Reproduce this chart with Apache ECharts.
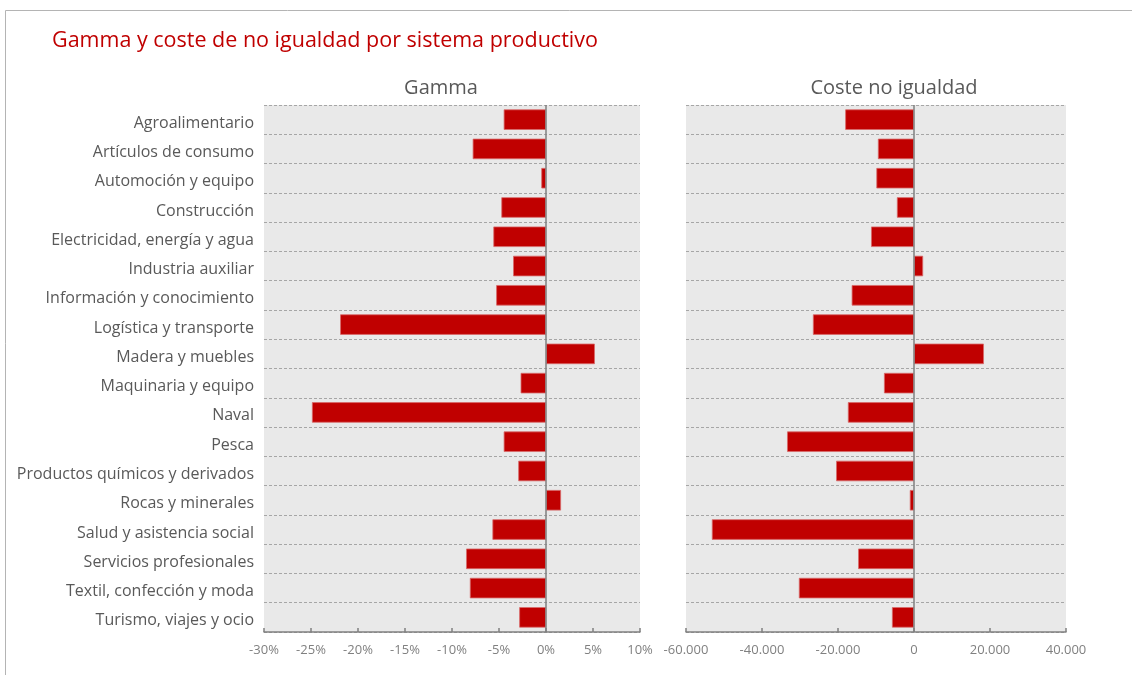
<!DOCTYPE html>
<html><head><meta charset="utf-8">
<script src="https://cdn.jsdelivr.net/npm/echarts@6/dist/echarts.min.js"></script>
<style>html,body{margin:0;padding:0;background:#fff}#c{width:1132px;height:675px}</style>
</head><body><div id="c"></div>
<script>
const categories = ["Agroalimentario","Artículos de consumo","Automoción y equipo","Construcción","Electricidad, energía y agua","Industria auxiliar","Información y conocimiento","Logística y transporte","Madera y muebles","Maquinaria y equipo","Naval","Pesca","Productos químicos y derivados","Rocas y minerales","Salud y asistencia social","Servicios profesionales","Textil, confección y moda","Turismo, viajes y ocio"];
const gamma = [-4.5,-7.8,-0.5,-4.75,-5.6,-3.5,-5.3,-21.9,5.2,-2.7,-24.9,-4.5,-2.95,1.6,-5.7,-8.5,-8.1,-2.85];
const coste = [-18100,-9500,-9900,-4500,-11300,2400,-16400,-26600,18400,-7900,-17400,-33400,-20500,-1100,-53200,-14700,-30300,-5800];
const titleText = "Gamma y coste de no igualdad por sistema productivo";
const panelTitles = ["Gamma","Coste no igualdad"];

const FONT = "'Open Sans', 'Noto Sans', sans-serif";
const RED = "#c00000";
const fmtThousands = v => {
  const s = Math.abs(v).toString().replace(/\B(?=(\d{3})+(?!\d))/g, ".");
  return (v < 0 ? "-" : "") + s;
};
const chart = echarts.init(document.getElementById('c'), null, {renderer:'canvas'});

const catAxis = (gi, showLabels) => ({
  type:'category', gridIndex:gi, data:categories, inverse:true,
  axisLine:{show:false, onZero:false}, axisTick:{show:false},
  axisLabel:{show:showLabels, color:'#595959', fontSize:16, fontFamily:FONT, margin:10,
    formatter: v => '{a|' + v + '}',
    rich:{a:{color:'#595959', fontSize:16, fontFamily:FONT, padding:[7,0,0,0]}}},
  splitLine:{show:true, lineStyle:{color:'#a6a6a6', type:[3,2], width:1}}
});
const valAxis = (gi, min, max, interval, fmt) => ({
  type:'value', gridIndex:gi, min, max, interval,
  axisLine:{show:true, lineStyle:{color:'#808080', width:1.5}},
  axisTick:{show:true, inside:true, length:4, lineStyle:{color:'#808080', width:1.5}},
  axisLabel:{color:'#808080', fontSize:13, fontFamily:FONT, margin:12, formatter:fmt},
  splitLine:{show:false}
});
const zeroLine = {silent:true, symbol:['none','none'], label:{show:false},
  lineStyle:{color:'#7f7f7f', type:'solid', width:1.5}, data:[{xAxis:0}]};
const barStyle = {color:RED, borderColor:'#d86a6a', borderWidth:0.8};

chart.setOption({
  animation:false,
  backgroundColor:'#fff',
  title:[
    {text:titleText, left:47, top:25, textStyle:{color:RED, fontSize:21.5, fontWeight:'normal', fontFamily:FONT}},
    {text:panelTitles[0], left:436, top:73, textAlign:'center', textStyle:{color:'#595959', fontSize:20, fontWeight:'normal', fontFamily:FONT}},
    {text:panelTitles[1], left:889, top:73, textAlign:'center', textStyle:{color:'#595959', fontSize:20, fontWeight:'normal', fontFamily:FONT}}
  ],
  graphic:[{type:'rect', shape:{x:5.5, y:10.5, width:1200, height:700}, style:{fill:null, stroke:'#b4b4b4', lineWidth:1}, silent:true, z:-10}],
  grid:[
    {left:264, right:492, top:105, bottom:43, show:true, backgroundColor:'#e9e9e9', borderWidth:0},
    {left:686, right:66, top:105, bottom:43, show:true, backgroundColor:'#e9e9e9', borderWidth:0}
  ],
  xAxis:[
    valAxis(0, -30, 10, 5, v => v + '%'),
    valAxis(1, -60000, 40000, 20000, fmtThousands)
  ],
  yAxis:[catAxis(0, true), catAxis(1, false)],
  series:[
    {type:'bar', xAxisIndex:0, yAxisIndex:0, data:gamma, barWidth:'70%', itemStyle:barStyle, markLine:zeroLine},
    {type:'bar', xAxisIndex:1, yAxisIndex:1, data:coste, barWidth:'70%', itemStyle:barStyle, markLine:zeroLine}
  ]
});
</script></body></html>
